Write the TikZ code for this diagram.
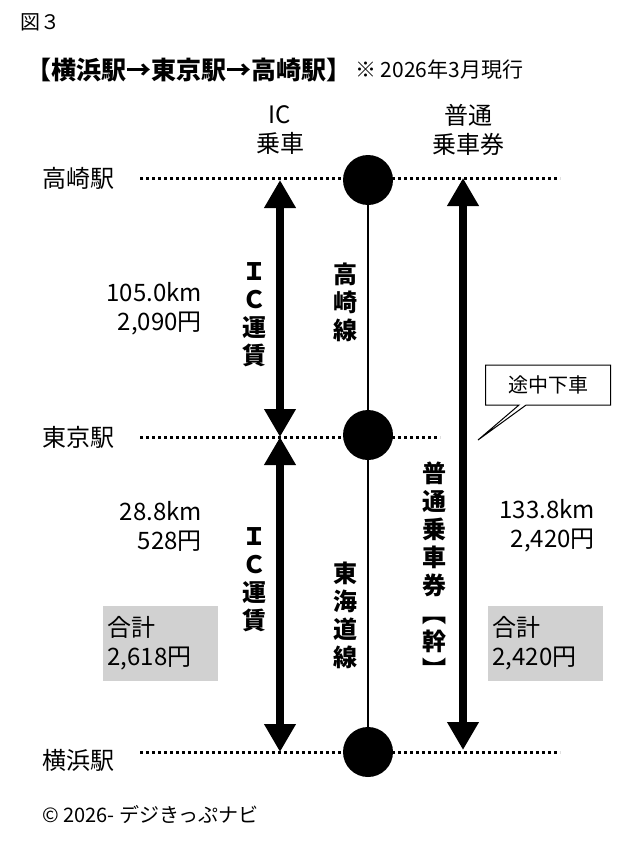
\documentclass[tikz,border=0pt]{standalone}
\usepackage{fontspec}
\setmainfont{Noto Sans CJK JP}
\usetikzlibrary{arrows.meta,positioning,shapes.callouts}
\tikzset{
  dotline/.style={line width=3pt, dash pattern=on 3pt off 3pt},
  fare/.style={line width=8pt, {Triangle[length=28pt,width=30pt]}-{Triangle[length=28pt,width=30pt]}},
  stop/.style={circle, fill=black, minimum size=50pt, inner sep=0pt},
  vtext/.style={align=center, font=\bfseries\fontsize{24}{28}\selectfont, inner sep=0pt},
  lbl/.style={font=\fontsize{24}{29}\selectfont, inner sep=0pt},
  total/.style={fill=black!18, minimum width=115pt, minimum height=75pt, align=left, text width=105pt, font=\fontsize{24}{29}\selectfont}
}
\begin{document}
\begin{tikzpicture}[x=1pt,y=-1pt]
\useasboundingbox (0,0) rectangle (640,859);
% heading
\node[lbl, anchor=west, font=\fontsize{20}{24}\selectfont] (fig) at (20,22) {図３};
\node[anchor=west, font=\bfseries\fontsize{25}{28}\selectfont, inner sep=0pt] (title) at (26,70) {【横浜駅→東京駅→高崎駅】};
\node[anchor=west, font=\fontsize{21}{24}\selectfont, inner sep=0pt] (date) at (355,70) {※ 2026年3月現行};
\node[lbl, align=center] (ichead) at (280,130) {IC\\乗車};
\node[lbl, align=center] (ophead) at (468,130) {普通\\乗車券};
% stations
\node[lbl, anchor=west] (takasaki) at (42,178) {高崎駅};
\node[lbl, anchor=west] (tokyo) at (42,437) {東京駅};
\node[lbl, anchor=west] (yokohama) at (42,760) {横浜駅};
\coordinate (t1) at (140,178); \coordinate (t2) at (560,178);
\coordinate (k1) at (140,437); \coordinate (k2) at (440,437);
\coordinate (y1) at (140,752); \coordinate (y2) at (560,752);
\draw[dotline] (t1) -- (t2);
\draw[dotline] (k1) -- (k2);
\draw[dotline] (y1) -- (y2);
% line
\node[stop] (st) at (368,180) {};
\node[stop] (sk) at (368,435) {};
\node[stop] (sy) at (368,752) {};
\draw[line width=2pt] (st) -- (sk) -- (sy);
% arrows
\coordinate (a1) at (280,180); \coordinate (a2) at (280,437);
\coordinate (a3) at (280,437); \coordinate (a4) at (280,752);
\coordinate (b1) at (463,178); \coordinate (b2) at (463,750);
\draw[fare] (a1) -- (a2);
\draw[fare] (a3) -- (a4);
\draw[fare] (b1) -- (b2);
% vertical texts
\node[vtext] (ic1) at (254,315) {Ｉ\\Ｃ\\運\\賃};
\node[vtext] (ic2) at (254,580) {Ｉ\\Ｃ\\運\\賃};
\node[vtext] (tk) at (345,302) {高\\崎\\線};
\node[vtext] (td) at (345,615) {東\\海\\道\\線};
\node[vtext] (fu) at (434,570) {普\\通\\乗\\車\\券\\︻\\幹\\︼};
% fares
\node[lbl, align=right, anchor=east] (f1) at (202,309) {105.0km\\2,090円};
\node[lbl, align=right, anchor=east] (f2) at (202,526) {28.8km\\528円};
\node[lbl, align=right, anchor=east] (f3) at (595,526) {133.8km\\2,420円};
\node[total] (sum1) at (160,643) {合計\\2,618円};
\node[total] (sum2) at (545,643) {合計\\2,420円};
% callout
\node[rectangle callout, draw, line width=1pt, minimum width=125pt, minimum height=40pt,
  font=\fontsize{20}{24}\selectfont, callout absolute pointer={(478,440)}] (stopover) at (548,385) {途中下車};
% footer
\node[anchor=west, font=\fontsize{20}{24}\selectfont, inner sep=0pt] (copy) at (42,815) {© 2026- デジきっぷナビ};
\end{tikzpicture}
\end{document}
